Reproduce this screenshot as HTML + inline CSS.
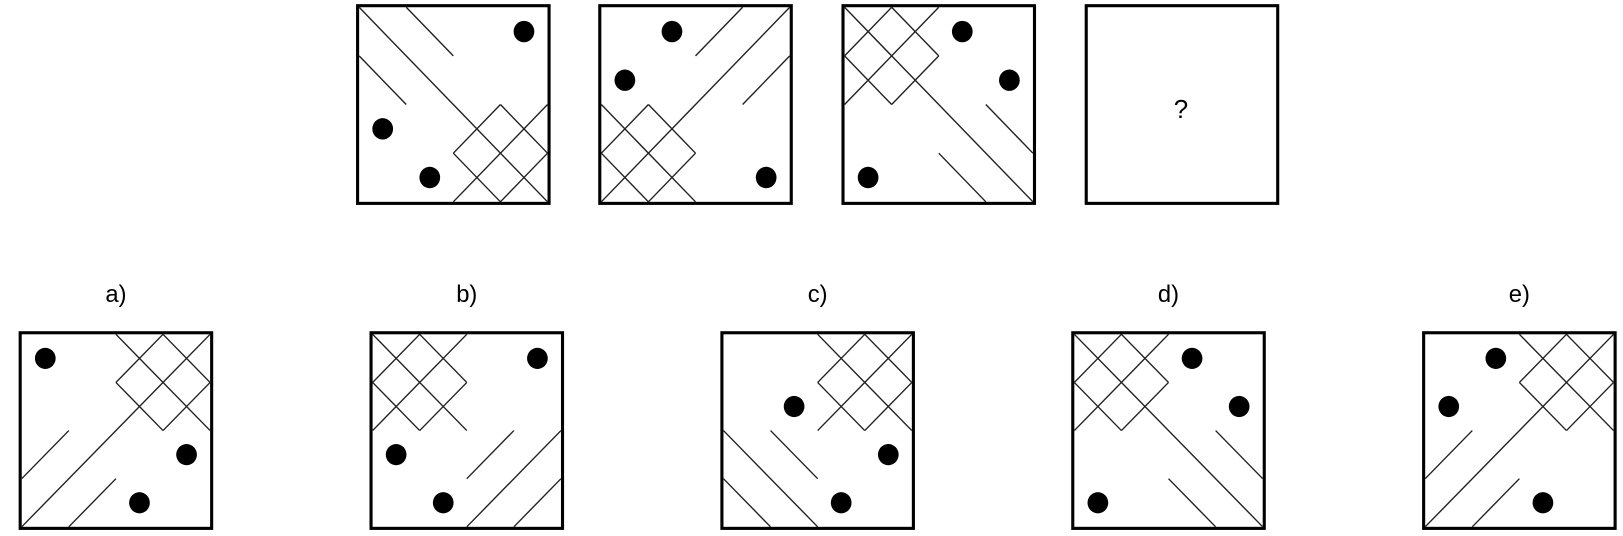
<!DOCTYPE html>
<html><head><meta charset="utf-8"><style>
html,body{margin:0;padding:0;background:#fff;width:1623px;height:536px;overflow:hidden}
svg{display:block}
.b{fill:none;stroke:#000;stroke-width:3}
.l{fill:none;stroke:#222;stroke-width:1.4}
text{font-family:"Liberation Sans",sans-serif;fill:#000}
</style></head><body>
<svg width="1623" height="536" viewBox="0 0 1623 536" xmlns="http://www.w3.org/2000/svg">
<g transform="scale(1.035)">
<!-- top row -->
<rect class="b" x="345.5" y="5.5" width="185" height="191"/>
<g transform="translate(347,7) scale(45.5,47)">
<path class="l" vector-effect="non-scaling-stroke" d="M2 3L3 2M2 4L4 2M3 4L4 3M2 3L3 4M2 2L4 4M3 2L4 3 M0 0L4 4M1 0L2 1M0 1L1 2"/>
<circle cx="3.5" cy="0.5" r="0.22"/><circle cx="0.5" cy="2.5" r="0.22"/><circle cx="1.5" cy="3.5" r="0.22"/>
</g>
<rect class="b" x="579.5" y="5.5" width="185" height="191"/>
<g transform="translate(581,7) scale(45.5,47)">
<path class="l" vector-effect="non-scaling-stroke" d="M0 3L1 2M0 4L2 2M1 4L2 3M0 3L1 4M0 2L2 4M1 2L2 3 M0 4L4 0M2 1L3 0M3 2L4 1"/>
<circle cx="1.5" cy="0.5" r="0.22"/><circle cx="0.5" cy="1.5" r="0.22"/><circle cx="3.5" cy="3.5" r="0.22"/>
</g>
<rect class="b" x="814.5" y="5.5" width="185" height="191"/>
<g transform="translate(816,7) scale(45.5,47)">
<path class="l" vector-effect="non-scaling-stroke" d="M0 1L1 0M0 2L2 0M1 2L2 1M0 1L1 2M0 0L2 2M1 0L2 1 M0 0L4 4M3 2L4 3M2 3L3 4"/>
<circle cx="2.5" cy="0.5" r="0.22"/><circle cx="3.5" cy="1.5" r="0.22"/><circle cx="0.5" cy="3.5" r="0.22"/>
</g>
<rect class="b" x="1049.5" y="5.5" width="185" height="191"/>
<text x="1141" y="114" font-size="25" text-anchor="middle">?</text>

<!-- labels -->
<text x="112" y="292" font-size="23" text-anchor="middle">a)</text>
<text x="451" y="292" font-size="23" text-anchor="middle">b)</text>
<text x="790" y="292" font-size="23" text-anchor="middle">c)</text>
<text x="1129" y="292" font-size="23" text-anchor="middle">d)</text>
<text x="1468" y="292" font-size="23" text-anchor="middle">e)</text>

<!-- answers -->
<rect class="b" x="19.5" y="321.5" width="185" height="189"/>
<g transform="translate(21,323) scale(45.5,46.5)">
<path class="l" vector-effect="non-scaling-stroke" d="M2 1L3 0M2 2L4 0M3 2L4 1M2 1L3 2M2 0L4 2M3 0L4 1 M0 4L4 0M0 3L1 2M1 4L2 3"/>
<circle cx="0.5" cy="0.5" r="0.22"/><circle cx="3.5" cy="2.5" r="0.22"/><circle cx="2.5" cy="3.5" r="0.22"/>
</g>
<rect class="b" x="358.5" y="321.5" width="185" height="189"/>
<g transform="translate(360,323) scale(45.5,46.5)">
<path class="l" vector-effect="non-scaling-stroke" d="M0 1L1 0M0 2L2 0M1 2L2 1M0 1L1 2M0 0L2 2M1 0L2 1 M2 3L3 2M2 4L4 2M3 4L4 3"/>
<circle cx="3.5" cy="0.5" r="0.22"/><circle cx="0.5" cy="2.5" r="0.22"/><circle cx="1.5" cy="3.5" r="0.22"/>
</g>
<rect class="b" x="697.5" y="321.5" width="185" height="189"/>
<g transform="translate(699,323) scale(45.5,46.5)">
<path class="l" vector-effect="non-scaling-stroke" d="M2 1L3 0M2 2L4 0M3 2L4 1M2 1L3 2M2 0L4 2M3 0L4 1 M0 2L2 4M1 2L2 3M0 3L1 4"/>
<circle cx="1.5" cy="1.5" r="0.22"/><circle cx="3.5" cy="2.5" r="0.22"/><circle cx="2.5" cy="3.5" r="0.22"/>
</g>
<rect class="b" x="1036.5" y="321.5" width="185" height="189"/>
<g transform="translate(1038,323) scale(45.5,46.5)">
<path class="l" vector-effect="non-scaling-stroke" d="M0 1L1 0M0 2L2 0M1 2L2 1M0 1L1 2M0 0L2 2M1 0L2 1 M0 0L4 4M3 2L4 3M2 3L3 4"/>
<circle cx="2.5" cy="0.5" r="0.22"/><circle cx="3.5" cy="1.5" r="0.22"/><circle cx="0.5" cy="3.5" r="0.22"/>
</g>
<rect class="b" x="1375.5" y="321.5" width="185" height="189"/>
<g transform="translate(1377,323) scale(45.5,46.5)">
<path class="l" vector-effect="non-scaling-stroke" d="M2 1L3 0M2 2L4 0M3 2L4 1M2 1L3 2M2 0L4 2M3 0L4 1 M0 4L4 0M0 3L1 2M1 4L2 3"/>
<circle cx="1.5" cy="0.5" r="0.22"/><circle cx="0.5" cy="1.5" r="0.22"/><circle cx="2.5" cy="3.5" r="0.22"/>
</g>
</g>
</svg>
</body></html>
